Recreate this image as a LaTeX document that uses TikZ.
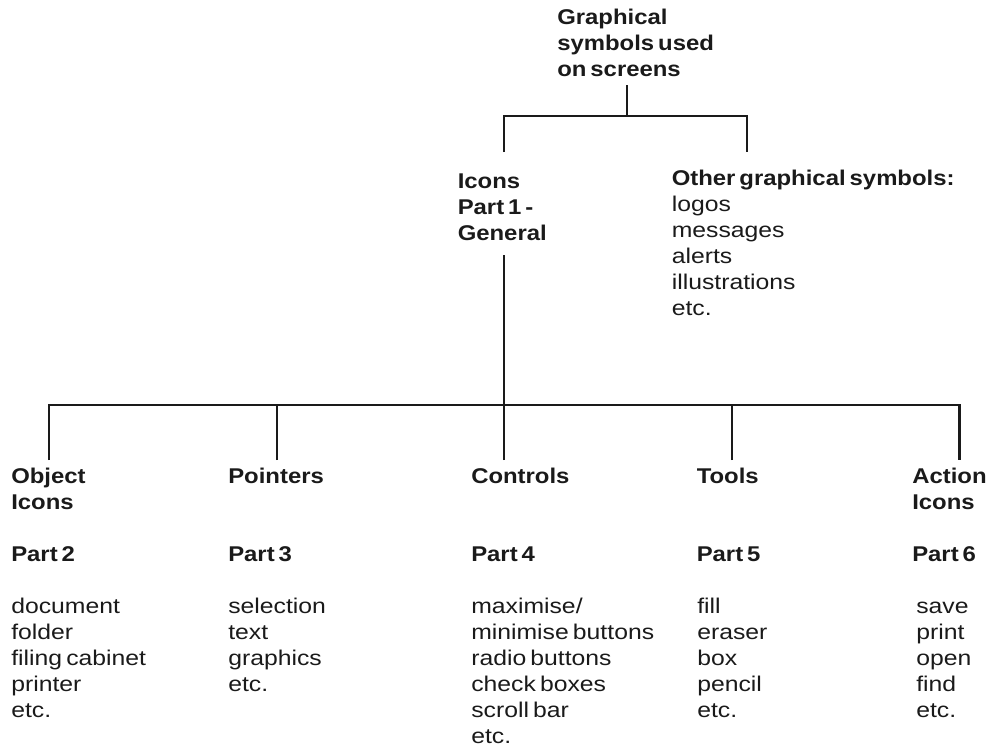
\documentclass[tikz,border=0pt]{standalone}
\usepackage{fontspec}
\setmainfont{Liberation Sans}[FakeStretch=1.16, WordSpace=0.6, BoldFeatures={FakeStretch=1.12}]
\definecolor{ink}{HTML}{1A1A1A}
\begin{document}
\begin{tikzpicture}[x=0.75pt,y=-0.75pt,
  txt/.style={anchor=north west, inner sep=0pt, align=left, text=ink,
              font=\fontsize{16}{19.5}\selectfont},
  hd/.style={txt, font=\fontsize{16}{19.5}\selectfont\bfseries},
  conn/.style={line width=1.9pt, draw=ink}]
\useasboundingbox (0,0) rectangle (989,747);

% top level
\node[hd] (top) at (557,6.3) {\strut Graphical\\symbols used\\on screens};
\node[hd] (icons) at (457.5,169.8) {\strut Icons\\Part 1 -\\General};
\node[txt] (other) at (671.5,167.3) {\strut\textbf{Other graphical symbols:}\\logos\\messages\\alerts\\illustrations\\etc.};

% columns
\node[hd] (objT) at (11,465.3) {\strut Object\\Icons};
\node[hd] (objP) at (11,542.8) {\strut Part 2};
\node[txt] (objL) at (11,595.3) {\strut document\\folder\\filing cabinet\\printer\\etc.};

\node[hd] (ptrT) at (228,465.3) {\strut Pointers};
\node[hd] (ptrP) at (228,542.8) {\strut Part 3};
\node[txt] (ptrL) at (228,595.3) {\strut selection\\text\\graphics\\etc.};

\node[hd] (ctlT) at (471,465.3) {\strut Controls};
\node[hd] (ctlP) at (471,542.8) {\strut Part 4};
\node[txt] (ctlL) at (471,595.3) {\strut maximise/\\minimise buttons\\radio buttons\\check boxes\\scroll bar\\etc.};

\node[hd] (tolT) at (696.5,465.3) {\strut Tools};
\node[hd] (tolP) at (696.5,542.8) {\strut Part 5};
\node[txt] (tolL) at (697,595.3) {\strut fill\\eraser\\box\\pencil\\etc.};

\node[hd] (actT) at (912,465.3) {\strut Action\\Icons};
\node[hd] (actP) at (912,542.8) {\strut Part 6};
\node[txt] (actL) at (916,595.3) {\strut save\\print\\open\\find\\etc.};

% connector end points
\coordinate (tA) at (627,85);
\coordinate (tB) at (627,116);
\coordinate (iT) at (504,152);
\coordinate (oT) at (747,152);
\coordinate (iB) at (504,255);
\coordinate (hub) at (504,405);
\coordinate (c1) at (49,460);
\coordinate (c2) at (277,460);
\coordinate (c3) at (504,460);
\coordinate (c4) at (732,460);
\coordinate (c5) at (959.5,460);

\draw[conn] (tA) -- (tB);
\draw[conn] (iT) |- (tB) -| (oT);
\draw[conn] (iB) -- (hub);
\draw[conn] (c1) |- (hub) -| (c5);
\draw[conn] (c2) -- (c2 |- hub);
\draw[conn] (c3) -- (hub);
\draw[conn] (c4) -- (c4 |- hub);
\end{tikzpicture}
\end{document}
